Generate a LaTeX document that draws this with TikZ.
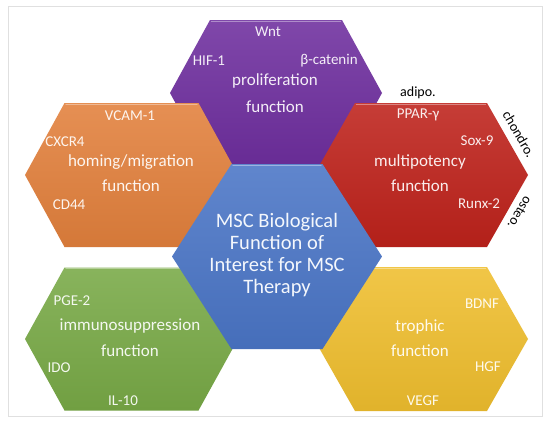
\documentclass[tikz,border=0pt]{standalone}
\usepackage{fontspec}
\setmainfont{Carlito}
\definecolor{hpurple}{HTML}{6E2E9E}
\definecolor{horange}{HTML}{E2803C}
\definecolor{hred}{HTML}{BE221B}
\definecolor{hblue}{HTML}{4A75C6}
\definecolor{hgreen}{HTML}{78A946}
\definecolor{hyellow}{HTML}{EFBE2E}
\newcommand\hexshape[7]{%
  \coordinate (#1) at (#2,#3);
  \shade[shift={(#1)}, top color=#7!88!white, middle color=#7, bottom color=#7!94!black]
    (-#4,0) -- (-#5,-#6) -- (#5,-#6) -- (#4,0) -- (#5,#6) -- (-#5,#6) -- cycle;
  \draw[shift={(#1)}, #7!55!white, line width=1.3pt, line cap=round]
    (-#5+1.5,-#6+1.2) -- (#5-1.5,-#6+1.2);
}
\tikzset{
  lab/.style={text=white!92!#1, font=\fontsize{15}{18}\selectfont, inner sep=0pt, text height=10.5pt, text depth=3pt},
  func/.style={text=white!92!#1, font=\fontsize{17}{20}\selectfont, inner sep=0pt, text height=12pt, text depth=3.5pt},
  side/.style={text=black, font=\fontsize{14}{16}\selectfont, inner sep=0pt, text height=10pt, text depth=3pt}
}
\begin{document}
\begin{tikzpicture}[x=1pt,y=-1pt]
\useasboundingbox (0,0) rectangle (550,426);
\fill[white] (0,0) rectangle (550,426);
\draw[black!12, line width=0.8pt] (8,6) rectangle (542,416);

\hexshape{pu}{276}{93}{106}{66}{73}{hpurple}
\hexshape{or}{131.5}{175}{106.5}{67}{72}{horange}
\hexshape{re}{421}{175}{107}{66}{72}{hred}
\hexshape{gr}{131.5}{339}{106.5}{67}{71.5}{hgreen}
\hexshape{ye}{421}{339}{107}{66}{72}{hyellow}
\hexshape{bl}{277}{256.5}{105}{45.5}{92.5}{hblue}

% purple
\node[lab=hpurple] (wnt) at (268,33) {Wnt};
\node[lab=hpurple] (hif) at (209,62) {HIF-1};
\node[lab=hpurple] (bcat) at (329,61) {β-catenin};
\node[func=hpurple] (prolif) at (275,81) {proliferation};
\node[func=hpurple] (pfunc) at (275,108) {function};
\node[side] (adipo) at (418,93) {adipo.};

% orange
\node[lab=horange] (vcam) at (130,117) {VCAM-1};
\node[lab=horange] (cxcr) at (65,143) {CXCR4};
\node[func=horange] (homing) at (131,162) {homing/migration};
\node[func=horange] (ofunc) at (131,187) {function};
\node[lab=horange] (cd44) at (69,206) {CD44};

% red
\node[lab=hred] (ppar) at (418,115) {PPAR-γ};
\node[lab=hred] (sox) at (477,142) {Sox-9};
\node[func=hred] (multi) at (420,162) {multipotency};
\node[func=hred] (rfunc) at (420,187) {function};
\node[lab=hred] (runx) at (479,205) {Runx-2};
\node[side, rotate=-60] (chondro) at (518,135) {chondro.};
\node[side, rotate=-120] (osteo) at (519,212) {osteo.};

% green
\node[lab=hgreen] (pge) at (72,302) {PGE-2};
\node[func=hgreen] (immuno) at (130,326) {immunosuppression};
\node[func=hgreen] (gfunc) at (130,352) {function};
\node[lab=hgreen] (ido) at (59,369) {IDO};
\node[lab=hgreen] (il) at (123,402) {IL-10};

% yellow
\node[lab=hyellow] (bdnf) at (482,305) {BDNF};
\node[func=hyellow] (troph) at (420,327) {trophic};
\node[func=hyellow] (yfunc) at (420,352) {function};
\node[lab=hyellow] (hgf) at (488,368) {HGF};
\node[lab=hyellow] (vegf) at (423,402) {VEGF};

% blue
\node[text=white!94!hblue, font=\fontsize{20.5}{22}\selectfont, align=center, inner sep=0pt] (msc) at (277,255) {MSC Biological\\Function of\\Interest for MSC\\Therapy};
\end{tikzpicture}
\end{document}
